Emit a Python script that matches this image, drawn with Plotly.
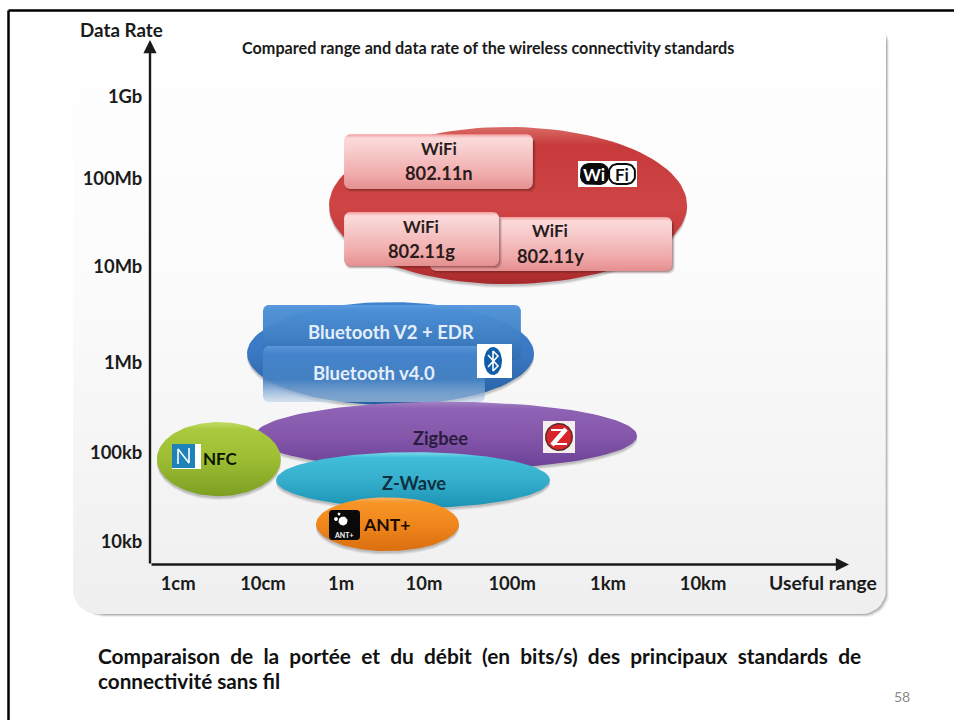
import numpy as np
import plotly.graph_objects as go

W, H = 954, 720

# Axis scale: pixels per decade and where the reference decades sit on the page
X_PX_PER_DECADE, X_1CM_PX = 83.5, 176
Y_PX_PER_DECADE, Y_10KB_PX = 88.8, 541

range_ticks_m = [0.0106, 0.110, 0.946, 9.33, 106, 1490, 20500]
range_tick_labels = ["1cm", "10cm", "1m", "10m", "100m", "1km", "10km"]
rate_ticks_bps = [1e9, 1.22e8, 1.22e7, 1.01e6, 1.0e5, 9.75e3]
rate_tick_labels = ["1Gb", "100Mb", "10Mb", "1Mb", "100kb", "10kb"]

# Coverage of each standard: range in metres, data rate in bit/s
ellipse_names = ["WiFi", "Bluetooth", "Zigbee", "NFC", "Z-Wave", "ANT+"]
ellipse_range_lo = [0.68, 0.071, 0.088, 0.0059, 0.158, 0.475]
ellipse_range_hi = [13200, 194, 3320, 0.18, 301, 24.5]
ellipse_rate_lo = [7.8e6, 3.4e5, 6.3e4, 3.2e4, 2.35e4, 7.7e3]
ellipse_rate_hi = [4.6e8, 4.9e6, 3.7e5, 2.19e5, 1.0e5, 3.1e4]

box_names = ["802.11y", "802.11g", "802.11n", "Bluetooth V2 + EDR", "Bluetooth v4.0"]
box_range_lo = [11, 1.03, 1.03, 0.11, 0.11]
box_range_hi = [8710, 74, 188, 135, 50]
box_rate_lo = [1.1e7, 1.25e7, 9.2e7, 1.09e6, 3.67e5]
box_rate_hi = [4.45e7, 5.07e7, 3.8e8, 4.55e6, 1.57e6]


def log_x(px):
    return (np.asarray(px, float) - X_1CM_PX) / X_PX_PER_DECADE - 2


def log_y(py):
    return 4 + (Y_10KB_PX - np.asarray(py, float)) / Y_PX_PER_DECADE


def from_px(xs, ys):
    return 10 ** log_x(xs), 10 ** log_y(ys)


fig = go.Figure()


def fill_poly(x, y, fill=None, grad=None, line=None, lw=0):
    kw = dict(x=x, y=y, mode="lines", fill="toself", hoverinfo="skip", showlegend=False,
              line=dict(width=lw, color=line or "rgba(0,0,0,0)"))
    if grad:
        kw["fillgradient"] = dict(type="vertical", colorscale=grad)
    else:
        kw["fillcolor"] = fill
    fig.add_trace(go.Scatter(**kw))


def stroke(xs, ys, color, width):
    x, y = from_px(xs, ys)
    fig.add_trace(go.Scatter(x=x, y=y, mode="lines", hoverinfo="skip", showlegend=False,
                             line=dict(color=color, width=width)))


def ellipse_pts(xlo, xhi, ylo, yhi, dx=0, dy=0, n=120):
    t = np.linspace(0, 2 * np.pi, n)
    lx0, lx1, ly0, ly1 = np.log10([xlo, xhi, ylo, yhi])
    ex = (lx0 + lx1) / 2 + (lx1 - lx0) / 2 * np.cos(t) + dx / X_PX_PER_DECADE
    ey = (ly0 + ly1) / 2 + (ly1 - ly0) / 2 * np.sin(t) - dy / Y_PX_PER_DECADE
    return 10 ** ex, 10 ** ey


def round_pts_px(x0, x1, y0, y1, r):
    pts = []
    for cx, cy, a0 in [(x1 - r, y0 + r, -90), (x1 - r, y1 - r, 0), (x0 + r, y1 - r, 90), (x0 + r, y0 + r, 180)]:
        a = np.radians(np.linspace(a0, a0 + 90, 10))
        pts += list(zip(cx + r * np.cos(a), cy + r * np.sin(a)))
    pts.append(pts[0])
    return np.array(pts).T


def round_px(x0, x1, y0, y1, r, **kw):
    xs, ys = round_pts_px(x0, x1, y0, y1, r)
    x, y = from_px(xs, ys)
    fill_poly(x, y, **kw)


def box_px(name_index):
    i = name_index
    return (X_1CM_PX + (np.log10(box_range_lo[i]) + 2) * X_PX_PER_DECADE,
            X_1CM_PX + (np.log10(box_range_hi[i]) + 2) * X_PX_PER_DECADE,
            Y_10KB_PX - (np.log10(box_rate_hi[i]) - 4) * Y_PX_PER_DECADE,
            Y_10KB_PX - (np.log10(box_rate_lo[i]) - 4) * Y_PX_PER_DECADE)


def draw_ellipse(i, grad):
    args = (ellipse_range_lo[i], ellipse_range_hi[i], ellipse_rate_lo[i], ellipse_rate_hi[i])
    for off, alpha in [(4, 0.07), (3, 0.1), (2, 0.14)]:
        x, y = ellipse_pts(*args, dx=0, dy=off)
        fill_poly(x, y, fill=f"rgba(60,60,60,{alpha})")
    x, y = ellipse_pts(*args)
    fill_poly(x, y, grad=grad)


def draw_box(i, grad, shadow=True):
    x0, x1, y0, y1 = box_px(i)
    if shadow:
        for off, alpha in [(3, 0.10), (2, 0.18), (1, 0.25)]:
            round_px(x0 + 1, x1 + off, y0 + 3, y1 + off, 6, fill=f"rgba(70,30,30,{alpha})")
    round_px(x0, x1, y0, y1, 6, grad=grad)


# Rounded panel behind the diagram, with its soft grey edge on the right and bottom
for off, alpha in [(3, 0.10), (2, 0.18), (1, 0.28)]:
    round_px(80, 886 + off, 20, 614 + off, 24, fill=f"rgba(90,90,90,{alpha})")
round_px(73, 886, 13, 614, 24, grad=[[0, "#efefef"], [0.55, "#fbfbfb"], [1, "#ffffff"]])

RED = [[0, "#a52a2c"], [0.12, "#bf3436"], [0.5, "#cf4444"], [0.88, "#c63a3b"], [1, "#d96b66"]]
PINK = [[0, "#e58f8f"], [0.25, "#f0a9a9"], [0.8, "#f9d3d3"], [0.93, "#fbd9d9"], [1, "#f29d9d"]]
BLUE = [[0, "#245f9f"], [0.5, "#3a78c2"], [1, "#3f83cf"]]
BT_TOP = [[0, "rgba(47,108,174,0.95)"], [0.45, "rgba(65,129,198,0.96)"], [0.9, "rgba(76,143,212,0.97)"], [1, "#5b9ae0"]]
BT_FRONT = [[0, "rgba(190,210,232,0.6)"], [0.4, "rgba(70,130,195,0.93)"], [0.85, "rgba(68,132,204,0.97)"], [1, "#5c96d8"]]
PURPLE = [[0, "#6a3f95"], [0.5, "#8457ab"], [0.9, "#8e62b5"], [1, "#a280c4"]]
GREEN = [[0, "#7d9f22"], [0.5, "#9dbd33"], [0.9, "#a9ca3d"], [1, "#c2dc6a"]]
TEAL = [[0, "#1a92b3"], [0.5, "#36afcd"], [0.9, "#40bdd8"], [1, "#7dd9ea"]]
ORANGE = [[0, "#d96f10"], [0.5, "#f0861c"], [0.9, "#f89527"], [1, "#fbb35f"]]

# Coverage ellipses and the technology boxes, back to front
draw_ellipse(0, RED)
draw_box(0, PINK)
draw_box(1, PINK)
draw_box(2, PINK)
draw_ellipse(1, BLUE)
draw_box(3, BT_TOP, shadow=False)
draw_box(4, BT_FRONT, shadow=False)
draw_ellipse(2, PURPLE)
draw_ellipse(4, TEAL)
draw_ellipse(3, GREEN)
draw_ellipse(5, ORANGE)


def px_rect(x0, x1, y0, y1, color):
    x, y = from_px([x0, x1, x1, x0, x0], [y0, y0, y1, y1, y0])
    fill_poly(x, y, fill=color)


def px_oval(cx, cy, rx, ry, color):
    t = np.linspace(0, 2 * np.pi, 60)
    x, y = from_px(cx + rx * np.cos(t), cy + ry * np.sin(t))
    fill_poly(x, y, fill=color)


# Wi-Fi badge
px_rect(578, 637, 161, 187, "#ffffff")
round_px(580, 609, 163, 185, 9, fill="#0a0a0a")
round_px(609, 635, 164, 184, 8, fill="#ffffff", line="#0a0a0a", lw=2)

# Bluetooth badge
px_rect(477, 512, 344, 378, "#ffffff")
px_oval(493, 361, 9, 14, "#0f5ca8")
stroke([488, 498, 493, 493, 498, 488], [355, 366, 371, 351, 356, 367], "#ffffff", 1.6)

# Zigbee badge
px_rect(543, 575, 421, 453, "#f4eeee")
px_oval(559, 437, 14, 14, "#5a2a2a")
px_oval(559, 437, 12.5, 12.5, "#d9252a")
stroke([551, 566], [430, 430], "#ffffff", 2)
stroke([552, 567], [444, 444], "#ffffff", 2)
stroke([552, 566], [445, 429], "#ffffff", 4.5)

# NFC badge
px_rect(172, 201, 444, 469, "#ffffff")
px_rect(172, 195, 444, 468, "#1f82b8")
stroke([178, 178, 189, 189], [464, 449, 463, 448], "#ffffff", 1.6)

# ANT+ badge
round_px(329, 360, 510, 540, 3, fill="#0a0a0a")
px_oval(343, 521, 4.5, 4.5, "#ffffff")
px_oval(336, 519, 2, 2, "#ffffff")
px_oval(339, 514, 1.5, 1.5, "#ffffff")

annotations = []


def text_px(x, y, text, size=18, color="#1b1b1b", bold=True, anchor="center"):
    annotations.append(dict(
        x=x / W, y=1 - y / H, xref="paper", yref="paper", text=f"<b>{text}</b>" if bold else text,
        showarrow=False, xanchor=anchor, yanchor="middle",
        font=dict(family="Lato", size=size, color=color)))


# Technology names
for label, x, y, col, size in [
    ("WiFi", 439, 149, "#2a1c1c", 17), ("802.11n", 439, 173, "#2a1c1c", 18.3),
    ("WiFi", 421, 226, "#2a1c1c", 17), ("802.11g", 421, 251, "#2a1c1c", 18.3),
    ("WiFi", 550, 231, "#2a1c1c", 17), ("802.11y", 550, 256, "#2a1c1c", 18.3),
    ("Bluetooth V2 + EDR", 391, 332, "#e4eefa", 18.5), ("Bluetooth v4.0", 374, 373, "#e4eefa", 18.5),
    ("Zigbee", 440, 438, "#2a1c3c", 18.2), ("Z-Wave", 414, 483, "#103040", 18.4),
    ("NFC", 220, 459, "#0d1500", 17), ("ANT+", 386, 524, "#1a0d00", 17.5),
]:
    text_px(x, y, label, size=size, color=col)

text_px(594, 174, "Wi", size=17, color="#ffffff")
text_px(622, 174, "Fi", size=17, color="#111111")
text_px(344, 535, "ANT+", size=7, color="#ffffff")

# Page text
text_px(121.5, 30, "Data Rate", size=18.8)
text_px(487.5, 48, "Compared range and data rate of the wireless connectivity standards", size=16.2)
text_px(822.5, 582.5, "Useful range", size=19.3)
sp = "\u00a0\u00a0"
text_px(96, 655, sp.join("Comparaison de la portée et du débit (en bits/s) des principaux standards de".split()),
        size=20.9, color="#111111", anchor="left")
text_px(96, 681, "connectivité sans fil", size=20.7, color="#111111", anchor="left")
text_px(902, 696, "58", size=14, color="#8a8a8a", bold=False)

# Axis arrows
annotations.append(dict(x=849 / W, y=1 - 564.5 / H, xref="paper", yref="paper", text="", showarrow=True,
                        ax=-699, ay=0, axref="pixel", ayref="pixel", arrowhead=2, arrowsize=1.1,
                        arrowwidth=2.4, arrowcolor="#1a1a1a"))
annotations.append(dict(x=150 / W, y=1 - 40 / H, xref="paper", yref="paper", text="", showarrow=True,
                        ax=0, ay=525, axref="pixel", ayref="pixel", arrowhead=2, arrowsize=1.1,
                        arrowwidth=2.4, arrowcolor="#1a1a1a"))

tick_font = dict(family="Lato", size=18.4, color="#1b1b1b", weight="bold")
fig.update_layout(
    width=W, height=H, margin=dict(l=0, r=0, t=0, b=0), autosize=False,
    paper_bgcolor="#ffffff", plot_bgcolor="#ffffff", annotations=annotations,
    shapes=[dict(type="line", xref="paper", yref="paper", x0=8.5 / W, x1=1, y0=1 - 10.5 / H, y1=1 - 10.5 / H,
                 line=dict(color="#000000", width=2.5)),
            dict(type="line", xref="paper", yref="paper", x0=8.5 / W, x1=8.5 / W, y0=0, y1=1 - 10.5 / H,
                 line=dict(color="#000000", width=2.5))],
    xaxis=dict(type="log", range=[float(log_x(0)), float(log_x(W))], anchor="free", position=1 - 564.5 / H,
               tickmode="array", tickvals=range_ticks_m, ticktext=range_tick_labels, showgrid=False,
               zeroline=False, showline=False, ticks="outside", ticklen=2, tickcolor="rgba(0,0,0,0)",
               tickfont=tick_font),
    yaxis=dict(type="log", range=[float(log_y(H)), float(log_y(0))], anchor="free", position=150 / W,
               tickmode="array", tickvals=rate_ticks_bps, ticktext=rate_tick_labels, showgrid=False,
               zeroline=False, showline=False, ticks="outside", ticklen=4, tickcolor="rgba(0,0,0,0)",
               tickfont=tick_font),
)
fig.write_html("out.html")
